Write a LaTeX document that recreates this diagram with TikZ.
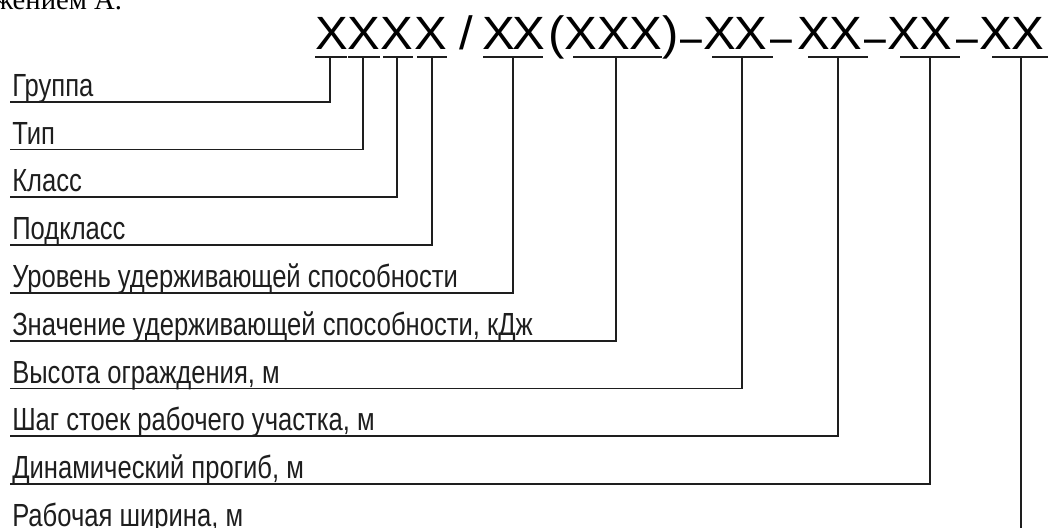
\documentclass[tikz,border=0pt]{standalone}
\usepackage{fontspec}
\usepackage{graphicx}
\usepackage{tikz}
\usetikzlibrary{calc}
\setmainfont{Liberation Serif}
\newfontfamily\gostfont[FakeStretch=0.8]{Liberation Sans}
\newfontfamily\codefont[FakeStretch=1.05]{Liberation Sans}
\definecolor{InkGray}{HTML}{1E1E1E}
\newcommand{\lowdash}{\raisebox{-3pt}{\scalebox{0.8}[1]{–}}}

\begin{document}
\begin{tikzpicture}[x=0.75pt, y=-0.75pt,
    lbl/.style={anchor=base west, inner sep=0pt, text=InkGray,
      font=\gostfont\fontsize{24pt}{24pt}\selectfont},
    chr/.style={anchor=base, inner sep=0pt, text=black,
      font=\codefont\fontsize{35pt}{35pt}\selectfont},
    leader/.style={draw=InkGray, line width=1.4pt}]
    \clip (0,0) rectangle (1049,528);
    % remnant of the text above
    \node[anchor=base west, inner sep=0pt, font=\fontsize{21.5pt}{21.5pt}\selectfont] (caption) at (-7,10) {жением А.};
    % designation
    \foreach \x/\c [count=\n] in {332/X, 364/X, 397/X, 431/X, 466/{\slash}, 499/X, 529/X, 557/{(},
        581/X, 614/X, 646/X, 671/{)}, 691/{\lowdash}, 720/X, 751/X, 781/{\lowdash}, 814/X, 846/X,
        875/{\lowdash}, 904/X, 936/X, 967/{\lowdash}, 996/X, 1028/X} {
        \node[chr] (c\n) at (\x,50) {\c};
    }
    % leaders to the explanations
    \foreach \a/\b/\t/\txt [count=\i] in {
        315/347/330/{Группа},
        348/380/363/{Тип},
        383/413/397/{Класс},
        417/447/432/{Подкласс},
        483/543/513/{Уровень удерживающей способности},
        573/662/616/{Значение удерживающей способности, кДж},
        712/773/742/{Высота ограждения, м},
        808/868/838/{Шаг стоек рабочего участка, м},
        900/960/930/{Динамический прогиб, м},
        992/1048/1021/{Рабочая ширина, м}} {
        \pgfmathsetmacro{\ly}{101.7+47.8*(\i-1)}
        \coordinate (ua\i) at (\a,57);
        \coordinate (ub\i) at (\b,57);
        \coordinate (t\i) at (\t,57);
        \coordinate (s\i) at (9.5,\ly);
        \node[lbl] (l\i) at ($(s\i)+(2.5,-5.5)$) {\txt};
        \draw[leader] (ua\i) -- (ub\i);
        \draw[leader] (t\i) |- (s\i);
    }
\end{tikzpicture}
\end{document}
